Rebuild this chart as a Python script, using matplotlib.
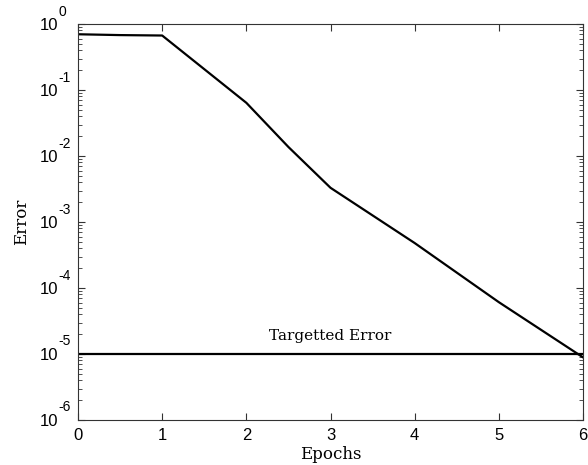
import matplotlib
matplotlib.use('Agg')
import matplotlib.pyplot as plt
import matplotlib.transforms as mtransforms
from matplotlib.ticker import LogLocator, NullFormatter

plt.rcParams['font.family'] = 'Liberation Sans'

# training error per epoch
epochs = [0, 0.5, 1, 2, 2.5, 3, 4, 5, 6]
error = [0.70, 0.68, 0.67, 0.064, 0.0137, 0.0033, 4.8e-4, 6.1e-5, 8.9e-6]
target = 1e-5
xticks = [0, 1, 2, 3, 4, 5, 6]
ydecades = [-6, -5, -4, -3, -2, -1, 0]

fig = plt.figure(figsize=(5.88, 4.65), dpi=100)
ax = fig.add_axes([0.1327, 0.0968, 0.8588, 0.8515])

ax.semilogy(epochs, error, color='black', linewidth=1.6)
ax.axhline(target, color='black', linewidth=1.6)
ax.text(3, 1.45e-5, 'Targetted Error', family='DejaVu Serif', fontsize=11,
        ha='center', va='bottom')

ax.set_xlim(0, 6)
ax.set_ylim(1e-6, 1)
ax.set_xticks(xticks)
ax.set_yticks([10.0 ** e for e in ydecades])
ax.set_yticklabels(['10'] * len(ydecades))
ax.yaxis.set_minor_locator(LogLocator(base=10, subs=range(2, 10), numticks=20))
ax.yaxis.set_minor_formatter(NullFormatter())
ax.tick_params(which='both', direction='in', top=True, right=True,
               labelsize=12, colors='#333333', labelcolor='black')
ax.tick_params(axis='y', which='major', pad=14)
ax.tick_params(axis='x', which='major', pad=6)
ax.tick_params(which='major', length=5, width=0.8)
ax.tick_params(which='minor', length=3, width=0.6)
for s in ax.spines.values():
    s.set_color('#333333')
    s.set_linewidth(0.8)

# MATLAB style exponents, a bit larger than mathtext superscripts
off = mtransforms.ScaledTranslation(-0.195, 0.125, fig.dpi_scale_trans)
for e in ydecades:
    ax.text(0, 10.0 ** e, str(e), fontsize=10, ha='left', va='center',
            transform=ax.get_yaxis_transform() + off, clip_on=False)

ax.set_xlabel('Epochs', family='DejaVu Serif', fontsize=12)
ax.set_ylabel('Error', family='DejaVu Serif', fontsize=12)
ax.xaxis.set_label_coords(0.5, -0.066)
ax.yaxis.set_label_coords(-0.095, 0.5)

fig.savefig('out.png', dpi=100)
